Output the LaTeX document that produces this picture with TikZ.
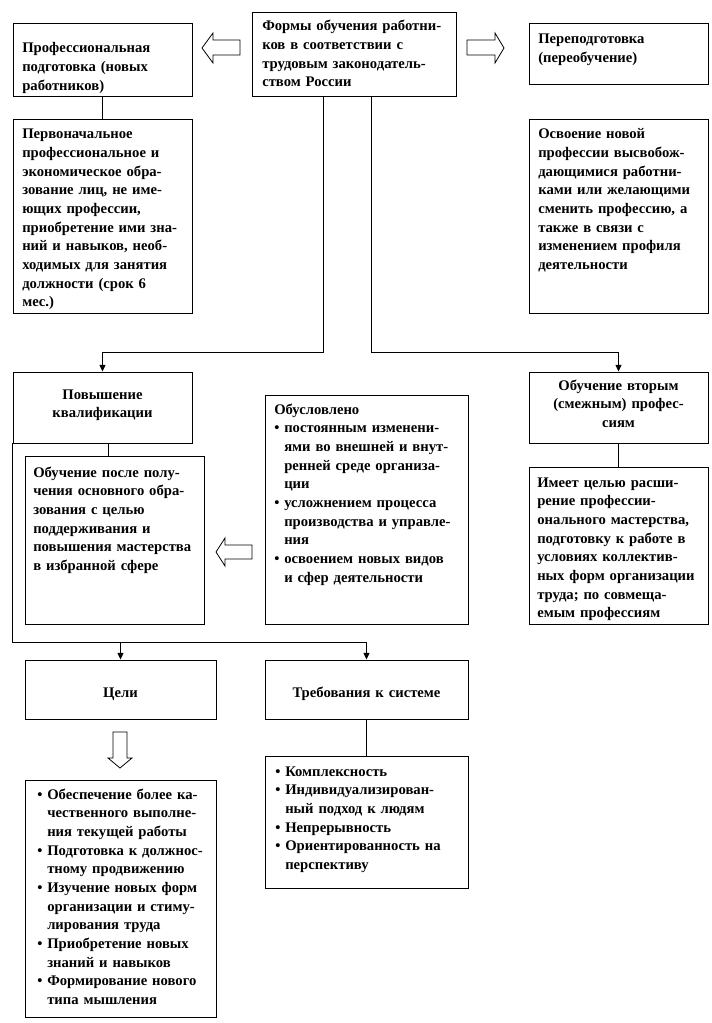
\documentclass[tikz,border=0pt]{standalone}
\usepackage{fontspec}
\setmainfont{Liberation Serif}
\usetikzlibrary{fit,calc,arrows.meta}
\newcommand\fs{\fontsize{11pt}{14pt}\selectfont\bfseries}
\newcommand\bul{\makebox[7.5pt][l]{•}}
\newcommand\ind{\hspace*{7.5pt}}
\begin{document}
\begin{tikzpicture}[x=0.75pt,y=-0.75pt,
  box/.style={draw, line width=0.7pt, inner sep=0pt},
  txt/.style={anchor=base west, inner sep=0pt, text width=170pt, align=left, font=\fs},
  ctxt/.style={anchor=base, inner sep=0pt, text width=170pt, align=center, font=\fs},
  conn/.style={line width=0.7pt},
  arr/.style={line width=0.7pt, -{Triangle[length=5pt,width=4.5pt]}},
  harrow/.style={draw, line width=0.6pt, fill=white, line join=miter}]
\useasboundingbox (0,0) rectangle (711,1023);
% boxes
\node[box, fit={(13,23)(192,96)}] (pp) {};
\node[box, fit={(252,12)(456,96)}] (main) {};
\node[box, fit={(529,23)(708,84)}] (pere) {};
\node[box, fit={(13,119)(192,313)}] (perv) {};
\node[box, fit={(529,119)(708,313)}] (osv) {};
\node[box, fit={(13,372)(192,443)}] (pov) {};
\node[box, fit={(25,456)(204,624)}] (obuch) {};
\node[box, fit={(265,395)(468,624)}] (obusl) {};
\node[box, fit={(529,372)(708,443)}] (vtor) {};
\node[box, fit={(529,467)(708,624)}] (imeet) {};
\node[box, fit={(25,660)(216,719)}] (celi) {};
\node[box, fit={(25,780)(216,1017)}] (celil) {};
\node[box, fit={(265,660)(468,719)}] (treb) {};
\node[box, fit={(265,756)(468,888)}] (trebl) {};
% texts
\node[txt] (pp-t) at (22,53) {Профессиональная\\подготовка (новых\\работников)};
\node[txt] (main-t) at (262,31) {Формы обучения работни-\\ков в соответствии с\\трудовым законодатель-\\ством России};
\node[txt] (pere-t) at (538,44) {Переподготовка\\(переобучение)};
\node[txt] (perv-t) at (22,139) {Первоначальное\\профессиональное и\\экономическое обра-\\зование лиц, не име-\\ющих профессии,\\приобретение ими зна-\\ний и навыков, необ-\\ходимых для занятия\\должности (срок 6\\мес.)};
\node[txt] (osv-t) at (538,139) {Освоение новой\\профессии высвобож-\\дающимися работни-\\ками или желающими\\сменить профессию, а\\также в связи с\\изменением профиля\\деятельности};
\node[ctxt] (pov-t) at (102.5,399) {Повышение\\квалификации};
\node[txt] (obuch-t) at (33,477) {Обучение после полу-\\чения основного обра-\\зования с целью\\поддерживания и\\повышения мастерства\\в избранной сфере};
\node[txt] (obusl-t) at (274,414) {Обусловлено\\\bul постоянным изменени-\\\ind ями во внешней и внут-\\\ind ренней среде организа-\\\ind ции\\\bul усложнением процесса\\\ind производства и управле-\\\ind ния\\\bul освоением новых видов\\\ind и сфер деятельности};
\node[ctxt] (vtor-t) at (618.5,390) {Обучение вторым\\(смежным) профес-\\сиям};
\node[txt] (imeet-t) at (537,487) {Имеет целью расши-\\рение профессии-\\онального мастерства,\\подготовку к работе в\\условиях коллектив-\\ных форм организации\\труда; по совмеща-\\емым профессиям};
\node[ctxt] (celi-t) at (120.5,697) {Цели};
\node[txt] (celil-t) at (37,799) {\bul Обеспечение более ка-\\\ind чественного выполне-\\\ind ния текущей работы\\\bul Подготовка к должнос-\\\ind тному продвижению\\\bul Изучение новых форм\\\ind организации и стиму-\\\ind лирования труда\\\bul Приобретение новых\\\ind знаний и навыков\\\bul Формирование нового\\\ind типа мышления};
\node[ctxt] (treb-t) at (366.5,697) {Требования к системе};
\node[txt] (trebl-t) at (275,776) {\bul Комплексность\\\bul Индивидуализирован-\\\ind ный подход к людям\\\bul Непрерывность\\\bul Ориентированность на\\\ind перспективу};
% connectors
\draw[conn] (pp.south) -- (perv.north);
\draw[arr] ([xshift=54pt]main.south west) |- ($(pov.north)+(0,-19)$) -- (pov.north);
\draw[arr] ([xshift=90pt]main.south west) |- ($(vtor.north)+(0,-19)$) -- (vtor.north);
\draw[conn] ([xshift=4.1pt]pov.south) -- ([xshift=4.1pt]pov.south |- obuch.north);
\draw[conn] (vtor.south) -- (imeet.north);
\coordinate (bl) at (0,642);
\draw[arr] (pov.south west) |- (treb.north |- bl) -- (treb.north);
\draw[arr] (celi.north |- bl) -- (celi.north);
\draw[conn] (treb.south) -- (trebl.north);
% hollow block arrows
\draw[harrow] (202,48) -- (213,33) -- (213,40) -- (240,40) -- (240,55) -- (213,55) -- (213,63) -- cycle;
\draw[harrow] (467,40) -- (495,40) -- (495,33) -- (504,48) -- (495,63) -- (495,55) -- (467,55) -- cycle;
\draw[harrow] (216,552) -- (225,538) -- (225,545) -- (252,545) -- (252,559) -- (225,559) -- (225,566) -- cycle;
\draw[harrow] (113,732) -- (127,732) -- (127,758) -- (132,758) -- (120,768) -- (108,758) -- (113,758) -- cycle;
\end{tikzpicture}
\end{document}
